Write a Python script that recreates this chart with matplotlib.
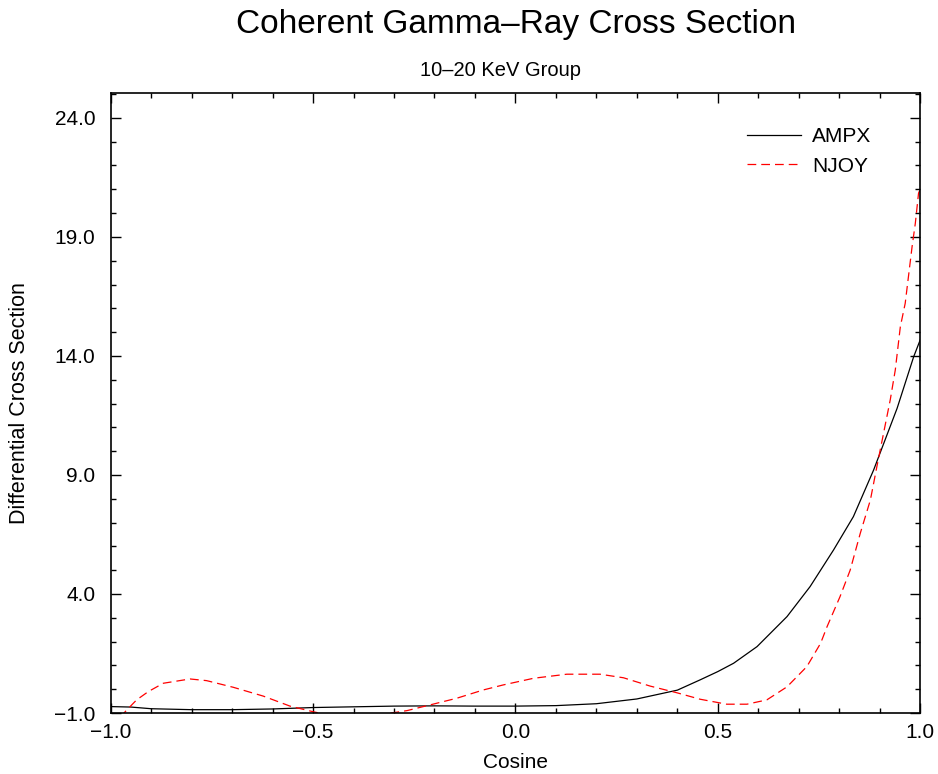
import numpy as np
import matplotlib.pyplot as plt
from matplotlib.ticker import MultipleLocator, FixedLocator

plt.rcParams['font.family'] = ['Liberation Sans', 'DejaVu Sans']

# values
ampx_x = [-1.0, -0.95, -0.9, -0.8, -0.7, -0.6, -0.5, -0.4, -0.3, -0.2, -0.1, 0.0,
          0.1, 0.2, 0.3, 0.4, 0.456, 0.5, 0.539, 0.597, 0.671, 0.728, 0.786,
          0.835, 0.885, 0.943, 0.984, 1.0]
ampx_y = [-0.73, -0.75, -0.82, -0.86, -0.86, -0.83, -0.77, -0.74, -0.71, -0.70, -0.71,
          -0.71, -0.69, -0.61, -0.41, -0.04, 0.39, 0.74, 1.09, 1.79, 3.05, 4.31, 5.85,
          7.25, 9.21, 11.8, 13.97, 14.67]

njoy_x = [-1.0, -0.96, -0.936, -0.907, -0.87, -0.804, -0.763, -0.697, -0.623, -0.557,
          -0.499, -0.45, -0.4, -0.35, -0.318, -0.268, -0.211, -0.145, -0.079, -0.03,
          0.045, 0.127, 0.209, 0.267, 0.333, 0.399, 0.456, 0.522, 0.572, 0.621,
          0.671, 0.72, 0.754, 0.77, 0.802, 0.827, 0.852, 0.877, 0.893, 0.9095,
          0.926, 0.9385, 0.951, 0.963, 0.971, 0.98, 0.988, 0.996, 1.0]
njoy_y = [-1.6, -0.87, -0.45, -0.1, 0.25, 0.43, 0.36, 0.08, -0.29, -0.71,
          -0.95, -1.12, -1.22, -1.18, -1.03, -0.9, -0.66, -0.38, -0.03, 0.18,
          0.46, 0.63, 0.63, 0.48, 0.13, -0.15, -0.42, -0.63, -0.63, -0.45,
          0.1, 0.95, 1.93, 2.63, 3.89, 5.0, 6.55, 7.95, 9.35, 10.75,
          12.15, 13.41, 15.23, 16.21, 17.33, 18.59, 19.57, 20.84, 21.0]

y_ticks = [-1.0, 4.0, 9.0, 14.0, 19.0, 24.0]
x_ticks = [-1.0, -0.5, 0.0, 0.5, 1.0]

fig = plt.figure(figsize=(9.38, 7.74), dpi=100)
ax = fig.add_axes([0.118, 0.0788, 0.863, 0.8012])

ax.plot(ampx_x, ampx_y, color='black', linewidth=0.9, label='AMPX')
ax.plot(njoy_x, njoy_y, color='red', linewidth=0.9, linestyle=(0, (7, 4)), label='NJOY')

ax.set_xlim(-1.0, 1.0)
ax.set_ylim(-1.0, 25.05)
ax.xaxis.set_major_locator(FixedLocator(x_ticks))
ax.xaxis.set_minor_locator(MultipleLocator(0.1))
ax.yaxis.set_major_locator(FixedLocator(y_ticks))
ax.yaxis.set_minor_locator(MultipleLocator(1.0))
ax.xaxis.set_major_formatter(plt.FuncFormatter(lambda v, p: f'{v:.1f}'.replace('-', '\u2212')))
ax.yaxis.set_major_formatter(plt.FuncFormatter(lambda v, p: f'{v:.1f}'.replace('-', '\u2212')))

ax.tick_params(which='both', direction='in', top=True, right=True, width=1.0)
ax.tick_params(which='major', length=7)
ax.tick_params(which='minor', length=3.5)
ax.tick_params(axis='x', which='major', labelsize=15, pad=7)
ax.tick_params(axis='y', which='major', labelsize=15, pad=11)
for sp in ax.spines.values():
    sp.set_linewidth(1.2)

ax.set_xlabel('Cosine', fontsize=15, labelpad=8)
ax.set_ylabel('Differential Cross Section', fontsize=15.5, labelpad=17)

fig.text(0.55, 0.968, 'Coherent Gamma\u2013Ray Cross Section', fontsize=24,
         ha='center', va='center')
fig.text(0.534, 0.909, '10\u201320 KeV Group', fontsize=14.5, ha='center', va='center')

ax.legend(loc='upper right', frameon=False, fontsize=15, handlelength=2.6,
          handletextpad=0.55, bbox_to_anchor=(0.963, 0.975), labelspacing=0.5)

fig.savefig('out.png', dpi=100)
